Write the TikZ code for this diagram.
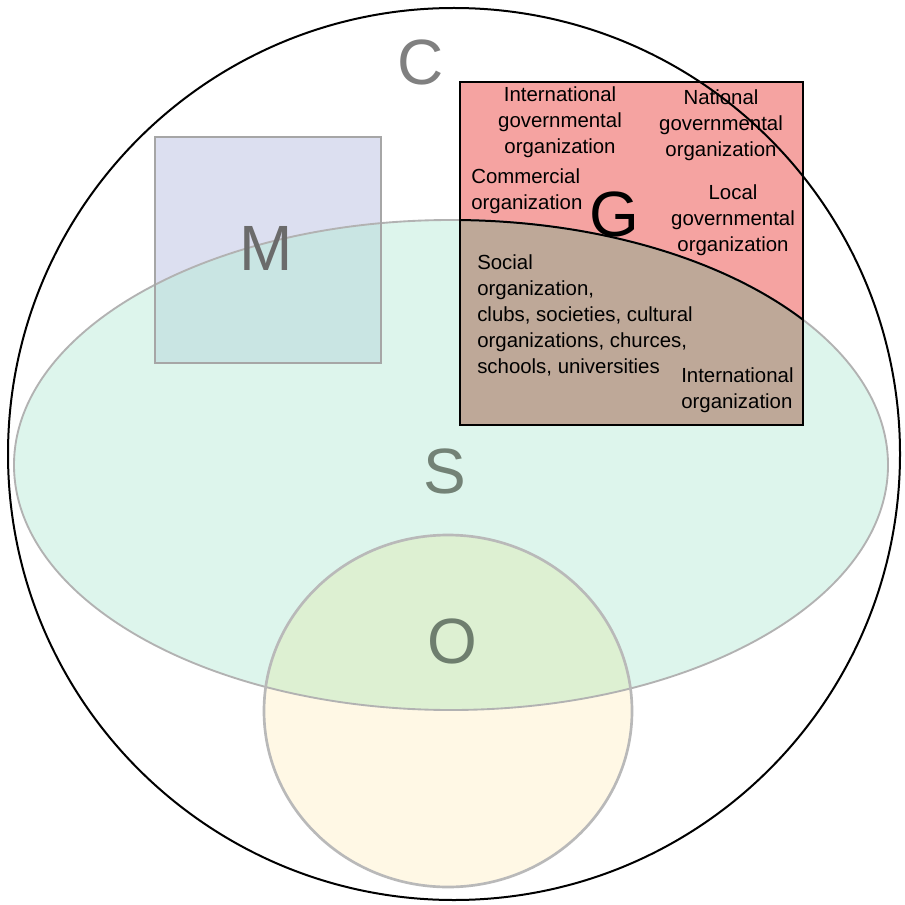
\documentclass[tikz,border=0pt]{standalone}
\usepackage{fontspec}
\setmainfont{Liberation Sans}
\begin{document}
\begin{tikzpicture}[x=0.75pt,y=-0.75pt,
  biglabel/.style={font=\fontsize{48}{48}\selectfont, inner sep=0pt},
  orgtext/.style={font=\fontsize{15.3}{19.5}\selectfont, inner sep=0pt, text=black},
  softline/.style={draw=gray!70, line width=1.4pt},
]
\definecolor{smint}{RGB}{221,245,236}
\definecolor{mlav}{RGB}{220,223,240}
\definecolor{mmix}{RGB}{201,229,227}
\definecolor{ocream}{RGB}{255,248,229}
\definecolor{omix}{RGB}{221,240,210}
\definecolor{gred}{RGB}{245,163,161}
\definecolor{gmix}{RGB}{190,168,152}
\definecolor{clabel}{RGB}{128,128,128}
\definecolor{mlabel}{RGB}{107,107,107}
\definecolor{slabel}{RGB}{115,130,118}
\definecolor{olabel}{RGB}{110,126,110}

\useasboundingbox (0,0) rectangle (904,905);
\fill[white] (0,0) rectangle (904,905);

% S: the wide ellipse
\fill[smint] (451,465) ellipse [x radius=437, y radius=245];

% M: square, tinted where it lies inside S
\fill[mlav] (155,137) rectangle (381,363);
\begin{scope}
  \clip (451,465) ellipse [x radius=437, y radius=245];
  \fill[mmix] (155,137) rectangle (381,363);
\end{scope}

% O: circle at the bottom
\fill[ocream] (448,711) ellipse [x radius=184, y radius=176];
\begin{scope}
  \clip (451,465) ellipse [x radius=437, y radius=245];
  \fill[omix] (448,711) ellipse [x radius=184, y radius=176];
\end{scope}

% G: square in the upper right
\fill[gred] (460,82) rectangle (803,425);
\begin{scope}
  \clip (451,465) ellipse [x radius=437, y radius=245];
  \fill[gmix] (460,82) rectangle (803,425);
\end{scope}

% outlines
\draw[softline, draw=gray!60] (451,465) ellipse [x radius=437, y radius=245];
\draw[softline] (155,137) rectangle (381,363);
\draw[softline, draw=gray!55, line width=2pt] (448,711) ellipse [x radius=184, y radius=176];
\begin{scope}
  \clip (460,82) rectangle (803,425);
  \draw[black, line width=1.5pt] (451,465) ellipse [x radius=437, y radius=245];
\end{scope}
\draw[black, line width=2.2pt] (460,82) rectangle (803,425);
% C: the enclosing circle
\draw[black, line width=1.5pt] (454,454) circle [radius=446];

% set labels
\node[biglabel, text=clabel] (lblC) at (421,62) {C};
\node[biglabel, text=mlabel] (lblM) at (266,248) {M};
\node[biglabel, text=slabel] (lblS) at (445,471) {S};
\node[biglabel, text=olabel] (lblO) at (452,641) {O};
\node[biglabel, text=black] (lblG) at (614,214) {G};

% organisations inside G
\node[orgtext, align=center] (intgov) at (560,122) {International\\governmental\\organization};
\node[orgtext, align=center] (natgov) at (721,125) {National\\governmental\\organization};
\node[orgtext, align=left, anchor=west] (comm) at (471,191) {Commercial\\organization};
\node[orgtext, align=center] (locgov) at (733,220) {Local\\governmental\\organization};
\node[orgtext, align=left, anchor=west] (social) at (477,315) {Social\\organization,\\clubs, societies, cultural\\organizations, churces,\\schools, universities};
\node[orgtext, align=left, anchor=west] (intorg) at (681,390) {International\\organization};
\end{tikzpicture}
\end{document}
